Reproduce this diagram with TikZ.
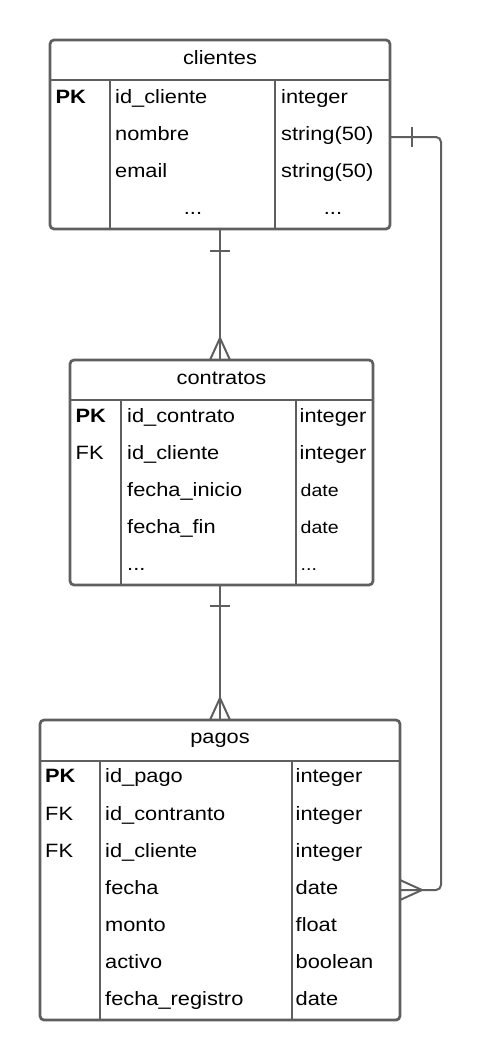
\documentclass[tikz,border=0pt]{standalone}
\usepackage{fontspec}
\setmainfont{Liberation Sans}[FakeStretch=1.13]
\definecolor{lc}{HTML}{5F5F5F}
\begin{document}
\begin{tikzpicture}[x=1pt,y=-1pt,
  tbl/.style={draw=lc, line width=2.7pt, rounded corners=4pt, inner sep=0pt, fill=white},
  sep/.style={draw=lc, line width=2.7pt},
  rel/.style={draw=lc, line width=2pt},
  txt/.style={inner sep=0pt, anchor=base west, text=black, font=\fontsize{19.3}{22}\selectfont},
  ctr/.style={txt, anchor=base},
  sm/.style={txt, font=\fontsize{17.3}{20}\selectfont}]
\useasboundingbox (0,0) rectangle (481,1060);

% ---------- connectors ----------
\coordinate (k1) at (441,137);
\coordinate (k2) at (441,890);
\draw[rel] (220,229) -- (220,360);
\draw[rel] (210,251) -- (230,251);
\draw[rel] (210,360) -- (220,338) -- (230,360);
\draw[rel] (220,585) -- (220,720);
\draw[rel] (210,606) -- (230,606);
\draw[rel] (210,720) -- (220,698) -- (230,720);
\draw[rel, rounded corners=5pt] (390,137) -- (k1) -- (k2) -- (400,890);
\draw[rel] (412,127) -- (412,147);
\draw[rel] (400,880) -- (422,890) -- (400,900);

% ---------- clientes ----------
\node[tbl, minimum width=340pt, minimum height=189pt] (clientes) at (220,134.5) {};
\draw[sep] (50,80) -- (390,80);
\draw[sep] (110,80) -- (110,229);
\draw[sep] (275,80) -- (275,229);
\node[ctr] (cl-t) at (220,64) {clientes};
\node[txt] (cl-k1) at (55.5,103) {\bfseries PK};
\node[txt] (cl-n1) at (115,103) {id\_cliente};
\node[txt] (cl-n2) at (115,140) {nombre};
\node[txt] (cl-n3) at (115,177) {email};
\node[ctr] (cl-n4) at (193,214) {...};
\node[txt] (cl-y1) at (281,103) {integer};
\node[txt] (cl-y2) at (281,140) {string(50)};
\node[txt] (cl-y3) at (281,177) {string(50)};
\node[ctr] (cl-y4) at (333,214) {...};

% ---------- contratos ----------
\node[tbl, minimum width=303pt, minimum height=225pt] (contratos) at (221.5,472.5) {};
\draw[sep] (70,400) -- (373,400);
\draw[sep] (121,400) -- (121,585);
\draw[sep] (296,400) -- (296,585);
\node[ctr] (co-t) at (221.5,384) {contratos};
\node[txt] (co-k1) at (75.5,422.5) {\bfseries PK};
\node[txt] (co-k2) at (75.5,459.5) {FK};
\node[txt] (co-n1) at (127,422.5) {id\_contrato};
\node[txt] (co-n2) at (127,459.5) {id\_cliente};
\node[txt] (co-n3) at (127,496.5) {fecha\_inicio};
\node[txt] (co-n4) at (127,533) {fecha\_fin};
\node[txt] (co-n5) at (127,570.5) {...};
\node[txt] (co-y1) at (299.5,422.5) {integer};
\node[txt] (co-y2) at (299.5,459.5) {integer};
\node[sm] (co-y3) at (300.5,496.5) {date};
\node[sm] (co-y4) at (300.5,533) {date};
\node[sm] (co-y5) at (300.5,570.5) {...};

% ---------- pagos ----------
\node[tbl, minimum width=360pt, minimum height=300pt] (pagos) at (220,870) {};
\draw[sep] (40,761) -- (400,761);
\draw[sep] (100,761) -- (100,1020);
\draw[sep] (292,761) -- (292,1020);
\node[ctr] (pa-t) at (220,743.5) {pagos};
\node[txt] (pa-k1) at (45,782.5) {\bfseries PK};
\node[txt] (pa-k2) at (45,820) {FK};
\node[txt] (pa-k3) at (45,857) {FK};
\node[txt] (pa-n1) at (105,782.5) {id\_pago};
\node[txt] (pa-n2) at (105,820) {id\_contranto};
\node[txt] (pa-n3) at (105,857) {id\_cliente};
\node[txt] (pa-n4) at (105,894) {fecha};
\node[txt] (pa-n5) at (105,931) {monto};
\node[txt] (pa-n6) at (105,968) {activo};
\node[txt] (pa-n7) at (105,1005) {fecha\_registro};
\node[txt] (pa-y1) at (295.5,782.5) {integer};
\node[txt] (pa-y2) at (295.5,820) {integer};
\node[txt] (pa-y3) at (295.5,857) {integer};
\node[txt] (pa-y4) at (295.5,894) {date};
\node[txt] (pa-y5) at (295.5,931) {float};
\node[txt] (pa-y6) at (295.5,968) {boolean};
\node[txt] (pa-y7) at (295.5,1005) {date};
\end{tikzpicture}
\end{document}
